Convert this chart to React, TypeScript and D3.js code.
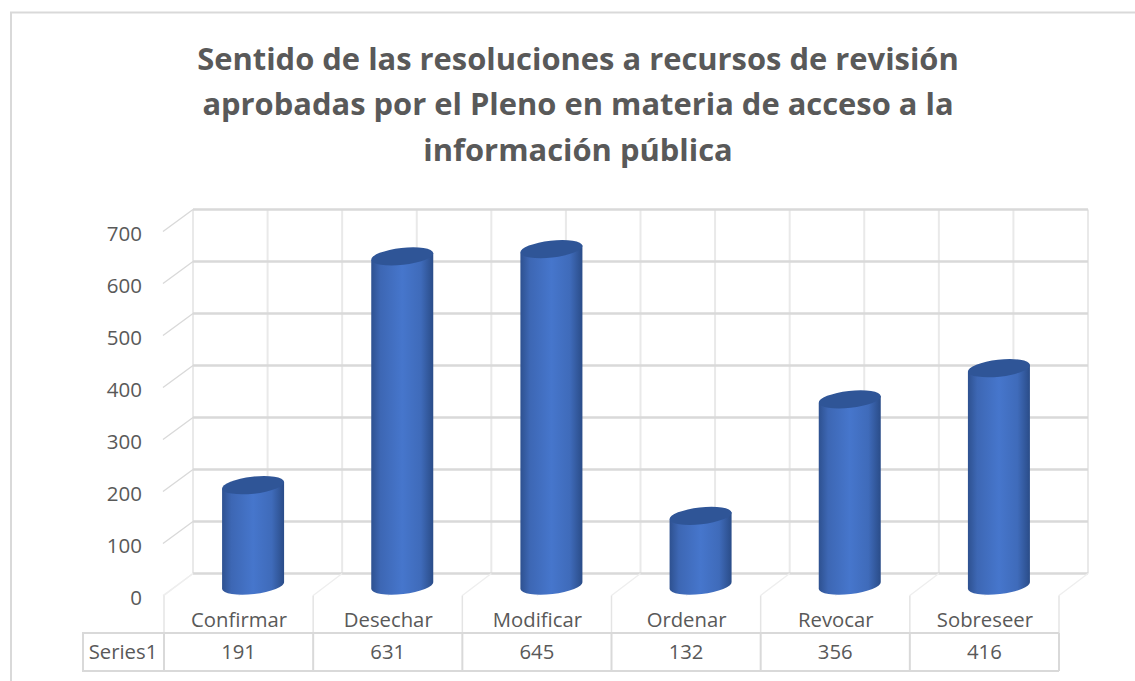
import { useRef, useEffect } from 'react'
import * as d3 from 'd3'

const categories = ['Confirmar', 'Desechar', 'Modificar', 'Ordenar', 'Revocar', 'Sobreseer']
const values = [191, 631, 645, 132, 356, 416]
const yTicks = [0, 100, 200, 300, 400, 500, 600, 700]
const seriesName = 'Series1'
const titleLines = [
  'Sentido de las resoluciones a recursos de revisión',
  'aprobadas por el Pleno en materia de acceso a la',
  'información pública',
]

const width = 1135
const height = 681
const depthX = 29 // desplazamiento de la pared trasera
const depthY = 22
const fontFamily = '"Open Sans", sans-serif'
const textColor = '#595959'

const App = () => {
  const svgRef = useRef<SVGSVGElement>(null)

  useEffect(() => {
    const svg = d3.select(svgRef.current)
    svg.selectAll('*').remove()

    // marco (sigue fuera de la imagen por la derecha y por abajo)
    svg.append('rect')
      .attr('x', 11).attr('y', 12.5).attr('width', 1200).attr('height', 800)
      .attr('fill', '#fff').attr('stroke', '#d9d9d9').attr('stroke-width', 2)

    // titulo
    svg.append('g').selectAll('text').data(titleLines).join('text')
      .text(d => d)
      .attr('x', 578)
      .attr('y', (d, i) => 69.5 + i * 45.5)
      .attr('text-anchor', 'middle')
      .attr('font-family', fontFamily)
      .attr('font-weight', 700)
      .attr('font-size', 30.9)
      .attr('fill', textColor)

    const xFront = d3.scaleBand().domain(categories).range([164, 1059])
    const yBack = d3.scaleLinear().domain([0, 700]).range([573.5, 209.5])
    const edges = xFront.domain().map(c => xFront(c) as number).concat([xFront.range()[1]])
    const bw = xFront.bandwidth()
    const baseY = yBack(0)
    const floorY = baseY + depthY

    // paredes: lineas verticales claras
    const walls = svg.append('g')
    const halfSteps = d3.range(0, categories.length * 2 + 1)
    walls.selectAll('line.v').data(halfSteps).join('line')
      .attr('class', 'v')
      .attr('x1', i => 164 + depthX + (i * bw) / 2)
      .attr('x2', i => 164 + depthX + (i * bw) / 2)
      .attr('y1', yBack(700)).attr('y2', baseY)
      .attr('stroke', '#e9e9e9').attr('stroke-width', 2)

    // lineas horizontales y diagonales del eje
    walls.selectAll('line.h').data(yTicks).join('line')
      .attr('class', 'h')
      .attr('x1', 164 + depthX).attr('x2', 1059 + depthX)
      .attr('y1', d => yBack(d)).attr('y2', d => yBack(d))
      .attr('stroke', '#d9d9d9').attr('stroke-width', 2.5)
    walls.selectAll('line.d').data(yTicks).join('line')
      .attr('class', 'd')
      .attr('x1', 164 + depthX).attr('x2', 164 - 1)
      .attr('y1', d => yBack(d)).attr('y2', d => yBack(d) + depthY)
      .attr('stroke', d => d === 0 ? '#eeeeee' : '#d9d9d9').attr('stroke-width', 1.4)

    // piso
    walls.selectAll('line.f').data(edges).join('line')
      .attr('class', 'f')
      .attr('x1', d => d).attr('x2', d => d + depthX)
      .attr('y1', floorY).attr('y2', baseY)
      .attr('stroke', '#eeeeee').attr('stroke-width', 1.4)
    walls.selectAll('line.g').data(categories).join('line')
      .attr('class', 'g')
      .attr('x1', d => (xFront(d) as number) + bw / 2)
      .attr('x2', d => (xFront(d) as number) + bw / 2 + depthX)
      .attr('y1', floorY).attr('y2', baseY)
      .attr('stroke', '#eeeeee').attr('stroke-width', 1.4)

    // cilindros
    const defs = svg.append('defs')
    const grad = defs.append('linearGradient').attr('id', 'cyl').attr('x1', 0).attr('x2', 1).attr('y1', 0).attr('y2', 0)
    const stops: [string, string][] = [['0%', '#2e5190'], ['15%', '#3d67b4'], ['50%', '#4676cc'], ['80%', '#3f6bba'], ['100%', '#2a4c88']]
    stops.forEach(([o, c]) => grad.append('stop').attr('offset', o).attr('stop-color', c))

    const rx = 31
    const ry = 8.5
    const tilt = 3.5 // diferencia vertical respecto al centro en cada borde
    const topOffset = 11
    const bottomOffset = 12
    const cylinder = (v: number) => {
      const top = yBack(v) + topOffset
      const bottom = baseY + bottomOffset
      return `M${-rx},${top + tilt}L${rx},${top - tilt}L${rx},${bottom - tilt}`
        + `A${rx},${ry} -6.4 0 1 ${-rx},${bottom + tilt}Z`
    }
    const bars = svg.append('g').selectAll('g').data(categories).join('g')
      .attr('transform', d => `translate(${(xFront(d) as number) + bw / 2 + depthX / 2},0)`)
    bars.append('path')
      .attr('d', (d, i) => cylinder(values[i]))
      .attr('fill', 'url(#cyl)')
    bars.append('ellipse')
      .attr('cx', 0)
      .attr('cy', (d, i) => yBack(values[i]) + topOffset)
      .attr('rx', rx + 0.2).attr('ry', ry)
      .attr('transform', (d, i) => `rotate(-6.4 0 ${yBack(values[i]) + topOffset})`)
      .attr('fill', '#2f5597')

    // eje y
    svg.append('g')
      .attr('transform', `translate(148,${depthY + 2})`)
      .call(d3.axisLeft(yBack).tickValues(yTicks).tickSize(0).tickPadding(6))
      .call(g => g.select('.domain').remove())
      .selectAll('text')
      .attr('font-family', fontFamily)
      .attr('font-size', 20.5)
      .attr('fill', textColor)

    // tabla de datos
    const tableTop = 633
    const tableBottom = 671
    const table = svg.append('g')
    table.selectAll('line.u').data(edges).join('line')
      .attr('class', 'u')
      .attr('x1', d => d).attr('x2', d => d)
      .attr('y1', floorY).attr('y2', tableTop)
      .attr('stroke', '#e4e4e4').attr('stroke-width', 1.5)
    table.selectAll('line.c').data(edges).join('line')
      .attr('class', 'c')
      .attr('x1', d => d).attr('x2', d => d)
      .attr('y1', tableTop).attr('y2', tableBottom)
      .attr('stroke', '#d9d9d9').attr('stroke-width', 2)
    table.append('path')
      .attr('d', `M1059,${tableTop}H83V${tableBottom}H1059`)
      .attr('fill', 'none').attr('stroke', '#d9d9d9').attr('stroke-width', 2)

    const text = (sel: any) => sel
      .attr('text-anchor', 'middle')
      .attr('font-family', fontFamily)
      .attr('font-size', 20.3)
      .attr('fill', textColor)

    table.selectAll('text.cat').data(categories).join('text')
      .attr('class', 'cat').text(d => d)
      .attr('x', d => (xFront(d) as number) + bw / 2 + 0.5)
      .attr('y', 627)
      .call(text)
    table.selectAll('text.val').data(values).join('text')
      .attr('class', 'val').text(d => d)
      .attr('x', (d, i) => (xFront(categories[i]) as number) + bw / 2)
      .attr('y', 659)
      .call(text)
    table.append('text').text(seriesName)
      .attr('x', 123).attr('y', 659)
      .call(text)
  }, [])

  return (
    <svg
      ref={svgRef}
      width={width}
      height={height}
      style={{ position: 'absolute', left: 0, top: 0, background: '#fff' }}
    />
  )
}

export default App
